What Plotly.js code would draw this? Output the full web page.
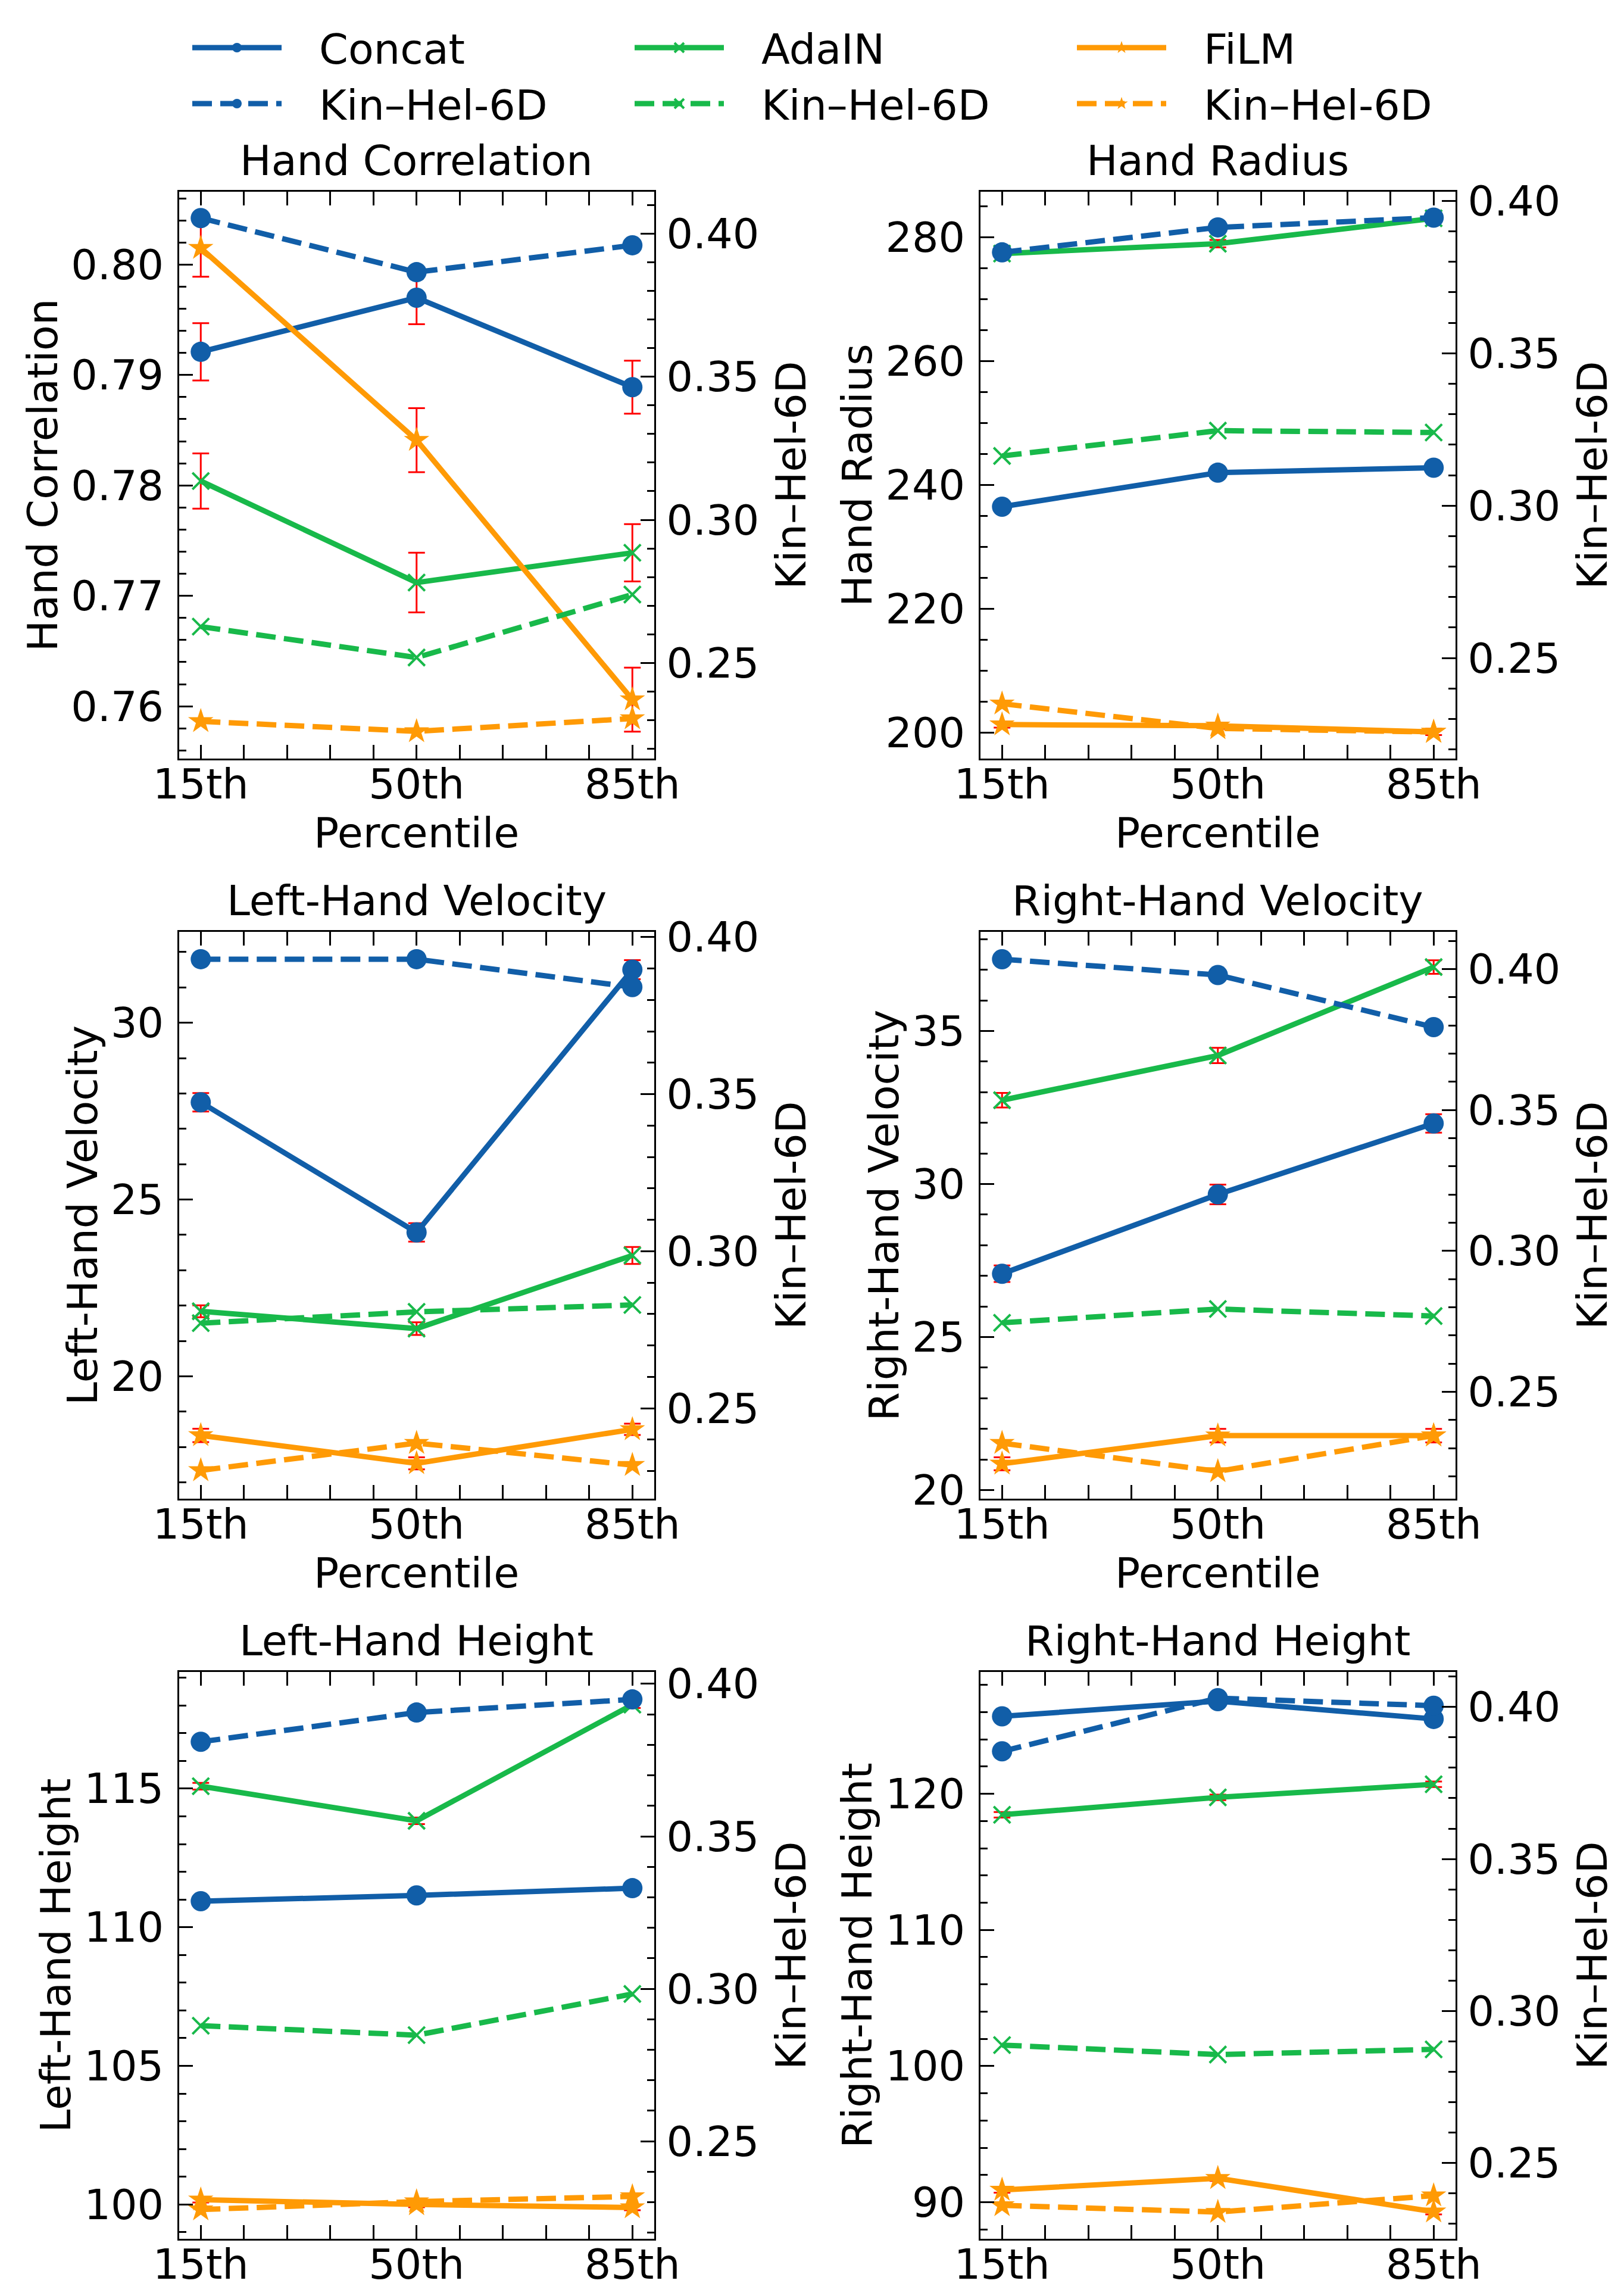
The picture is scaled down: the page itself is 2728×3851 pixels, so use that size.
<!DOCTYPE html>
<html>
<head>
<meta charset="utf-8">
<script src="https://cdn.plot.ly/plotly-3.0.1.min.js"></script>
<style>html,body{margin:0;padding:0;background:#fff;}</style>
</head>
<body>
<div id="chart" style="width:2728px;height:3851px;"></div>
<script>
// ---------------- data ----------------
const categories = ['15th', '50th', '85th'];
const seriesNames = ['Concat', 'AdaIN', 'FiLM'];
const khName = 'Kin\u2013Hel-6D';
const panelTitles = ['Hand Correlation', 'Hand Radius', 'Left-Hand Velocity', 'Right-Hand Velocity', 'Left-Hand Height', 'Right-Hand Height'];

// Hand Correlation
const hc_concat = [0.7921, 0.7970, 0.7889];
const hc_concat_err = [0.0026, 0.0024, 0.0024];
const hc_adain = [0.7804, 0.7712, 0.7739];
const hc_adain_err = [0.0025, 0.0027, 0.0026];
const hc_film = [0.8015, 0.7841, 0.7606];
const hc_film_err = [0.0026, 0.0029, 0.0029];
const hc_kh_concat = [0.4054, 0.3865, 0.3959];
const hc_kh_adain = [0.2627, 0.2519, 0.2739];
const hc_kh_film = [0.2296, 0.2261, 0.2306];

// Hand Radius
const hr_concat = [236.5, 242.0, 242.8];
const hr_concat_err = [0.5, 0.5, 0.5];
const hr_adain = [277.4, 279.0, 283.1];
const hr_adain_err = [0.5, 0.6, 0.5];
const hr_film = [201.3, 201.1, 200.1];
const hr_film_err = [0.5, 0.5, 0.5];
const hr_kh_concat = [0.3831, 0.3913, 0.3945];
const hr_kh_adain = [0.3163, 0.3246, 0.3240];
const hr_kh_film = [0.2350, 0.2269, 0.2257];

// Left-Hand Velocity
const lv_concat = [27.75, 24.07, 31.50];
const lv_concat_err = [0.26, 0.26, 0.27];
const lv_adain = [21.84, 21.35, 23.42];
const lv_adain_err = [0.17, 0.18, 0.24];
const lv_film = [18.33, 17.54, 18.50];
const lv_film_err = [0.19, 0.17, 0.16];
const lv_kh_concat = [0.3930, 0.3930, 0.3841];
const lv_kh_adain = [0.2771, 0.2807, 0.2829];
const lv_kh_film = [0.2302, 0.2389, 0.2319];

// Right-Hand Velocity
const rv_concat = [27.07, 29.66, 31.98];
const rv_concat_err = [0.27, 0.32, 0.30];
const rv_adain = [32.74, 34.20, 37.09];
const rv_adain_err = [0.24, 0.25, 0.22];
const rv_film = [20.86, 21.78, 21.78];
const rv_film_err = [0.21, 0.22, 0.22];
const rv_kh_concat = [0.4035, 0.3979, 0.3794];
const rv_kh_adain = [0.2745, 0.2794, 0.2769];
const rv_kh_film = [0.2318, 0.2218, 0.2345];

// Left-Hand Height
const lh_concat = [110.94, 111.15, 111.41];
const lh_concat_err = [0.10, 0.10, 0.10];
const lh_adain = [115.09, 113.84, 118.03];
const lh_adain_err = [0.12, 0.12, 0.12];
const lh_film = [100.17, 100.00, 99.89];
const lh_film_err = [0.10, 0.10, 0.10];
const lh_kh_concat = [0.3810, 0.3906, 0.3949];
const lh_kh_adain = [0.2879, 0.2848, 0.2983];
const lh_kh_film = [0.2276, 0.2302, 0.2319];

// Right-Hand Height
const rh_concat = [125.69, 126.81, 125.50];
const rh_concat_err = [0.20, 0.20, 0.20];
const rh_adain = [118.46, 119.74, 120.70];
const rh_adain_err = [0.20, 0.20, 0.20];
const rh_film = [90.90, 91.76, 89.30];
const rh_film_err = [0.20, 0.20, 0.20];
const rh_kh_concat = [0.3854, 0.4029, 0.4004];
const rh_kh_adain = [0.2888, 0.2857, 0.2874];
const rh_kh_film = [0.2361, 0.2339, 0.2393];

// ---------------- styling ----------------
const FONT = 'DejaVu Sans';
const FS = 70;
const colors = ['#115ea8', '#18b94a', '#ff9a05'];
const symbols = ['circle', 'x-thin', 'star'];
const msizes = [34, 28, 32];
const LW = 9;
const W = 2728, H = 3851;
const TOP = 280;            // top margin (legend lives above the plot area)
const PH = H - TOP;         // plot-area height

const panels = [
  {main: [hc_concat, hc_adain, hc_film], err: [hc_concat_err, hc_adain_err, hc_film_err], kh: [hc_kh_concat, hc_kh_adain, hc_kh_film],
   yl: {range: [0.75526, 0.8066], dtick: 0.01, minor: 0.002, fmt: '.2f'}, yr: {range: [0.2166, 0.4146]}},
  {main: [hr_concat, hr_adain, hr_film], err: [hr_concat_err, hr_adain_err, hr_film_err], kh: [hr_kh_concat, hr_kh_adain, hr_kh_film],
   yl: {range: [195.8, 287.4], dtick: 20, minor: 5, fmt: 'd'}, yr: {range: [0.2170, 0.4030]}},
  {main: [lv_concat, lv_adain, lv_film], err: [lv_concat_err, lv_adain_err, lv_film_err], kh: [lv_kh_concat, lv_kh_adain, lv_kh_film],
   yl: {range: [16.54, 32.57], dtick: 5, minor: 1, fmt: 'd'}, yr: {range: [0.2212, 0.4017]}},
  {main: [rv_concat, rv_adain, rv_film], err: [rv_concat_err, rv_adain_err, rv_film_err], kh: [rv_kh_concat, rv_kh_adain, rv_kh_film],
   yl: {range: [19.72, 38.24], dtick: 5, minor: 1, fmt: 'd'}, yr: {range: [0.2121, 0.4132]}},
  {main: [lh_concat, lh_adain, lh_film], err: [lh_concat_err, lh_adain_err, lh_film_err], kh: [lh_kh_concat, lh_kh_adain, lh_kh_film],
   yl: {range: [98.76, 119.21], dtick: 5, minor: 1, fmt: 'd'}, yr: {range: [0.2180, 0.4039]}},
  {main: [rh_concat, rh_adain, rh_film], err: [rh_concat_err, rh_adain_err, rh_film_err], kh: [rh_kh_concat, rh_kh_adain, rh_kh_film],
   yl: {range: [87.31, 128.95], dtick: 10, minor: 2, fmt: 'd'}, yr: {range: [0.2251, 0.4115]}}
];

// pixel geometry of the panels
const colX = [[301, 1098.5], [1647, 2444.5]];
const rowY = [[322, 1274], [1565, 2517], [2808, 3760]];
const fy = (py) => (H - py) / PH;   // pixel row -> plot-area fraction

const xs = categories.map((c, i) => i);

const traces = [];
const layout = {
  width: W, height: H,
  margin: {l: 0, r: 0, t: TOP, b: 0},
  paper_bgcolor: '#fff', plot_bgcolor: 'rgba(0,0,0,0)',
  font: {family: FONT, size: FS, color: '#000'},
  showlegend: true,
  legend: {
    orientation: 'h', x: 318 / W, xanchor: 'left', y: fy(28), yanchor: 'top',
    entrywidth: 578, entrywidthmode: 'pixels', itemwidth: 150,
    font: {family: FONT, size: FS, color: '#000'},
    bgcolor: 'rgba(0,0,0,0)', borderwidth: 0, traceorder: 'normal'
  },
  annotations: []
};

function axCommon() {
  return {
    showline: true, linecolor: '#000', linewidth: 3,
    ticks: 'inside', ticklen: 23, tickwidth: 3, tickcolor: '#000',
    showgrid: false, zeroline: false, fixedrange: true,
    tickfont: {family: FONT, size: FS, color: '#000'}
  };
}

panels.forEach((p, k) => {
  const r = Math.floor(k / 2), c = k % 2;
  const xi = k + 1, yli = 2 * k + 1, yri = 2 * k + 2;
  const xid = 'x' + (xi === 1 ? '' : xi);
  const ylid = 'y' + (yli === 1 ? '' : yli);
  const yrid = 'y' + yri;
  const xdom = [colX[c][0] / W, colX[c][1] / W];
  const ydom = [fy(rowY[r][1]), fy(rowY[r][0])];

  const xa = Object.assign(axCommon(), {
    domain: xdom, anchor: ylid, range: [-0.1, 2.1],
    tickmode: 'array', tickvals: xs, ticktext: categories,
    mirror: 'allticks', ticklabelstandoff: -20,
    minor: {tickmode: 'linear', tick0: 0, dtick: 0.2, ticks: 'inside', ticklen: 12, tickwidth: 3, tickcolor: '#000'}
  });
  if (r < 2) xa.title = {text: 'Percentile', font: {family: FONT, size: FS, color: '#000'}, standoff: 8};
  layout['xaxis' + (xi === 1 ? '' : xi)] = xa;

  layout['yaxis' + (yli === 1 ? '' : yli)] = Object.assign(axCommon(), {
    domain: ydom, anchor: xid, range: p.yl.range,
    tickmode: 'linear', tick0: 0, dtick: p.yl.dtick, tickformat: p.yl.fmt,
    ticklabelstandoff: 9,
    minor: {tickmode: 'linear', tick0: 0, dtick: p.yl.minor, ticks: 'inside', ticklen: 12, tickwidth: 3, tickcolor: '#000'},
    title: {text: panelTitles[k], font: {family: FONT, size: FS, color: '#000'}, standoff: 0}
  });

  layout['yaxis' + yri] = Object.assign(axCommon(), {
    domain: ydom, anchor: xid, overlaying: ylid, side: 'right', range: p.yr.range,
    tickmode: 'linear', tick0: 0, dtick: 0.05, tickformat: '.2f',
    ticklabelstandoff: 4,
    minor: {tickmode: 'linear', tick0: 0, dtick: 0.01, ticks: 'inside', ticklen: 12, tickwidth: 3, tickcolor: '#000'},
    title: {text: khName, font: {family: FONT, size: FS, color: '#000'}, standoff: 30}
  });

  layout.annotations.push({
    text: panelTitles[k], xref: 'paper', yref: 'paper',
    x: (xdom[0] + xdom[1]) / 2, y: ydom[1], xanchor: 'center', yanchor: 'middle', yshift: 52,
    showarrow: false, font: {family: FONT, size: FS, color: '#000'}
  });

  // main series (left axis) with error bars
  p.main.forEach((vals, s) => {
    traces.push({
      type: 'scatter', mode: 'lines+markers', x: xs, y: vals, xaxis: xid, yaxis: ylid,
      name: '\u2002\u2004' + seriesNames[s], showlegend: k === 0,
      line: {color: colors[s], width: LW},
      marker: {symbol: symbols[s], size: msizes[s], color: colors[s], line: {color: colors[s], width: s === 1 ? 4 : 0}},
      error_y: {type: 'data', array: p.err[s], visible: true, color: '#ff0000', thickness: 3, width: 14}
    });
  });
  // Kin-Hel-6D series (right axis), dashed
  p.kh.forEach((vals, s) => {
    traces.push({
      type: 'scatter', mode: 'lines+markers', x: xs, y: vals, xaxis: xid, yaxis: yrid,
      name: '\u2002\u2004' + khName, showlegend: k === 0,
      line: {color: colors[s], width: LW, dash: '33px,14px'},
      marker: {symbol: symbols[s], size: msizes[s], color: colors[s], line: {color: colors[s], width: s === 1 ? 4 : 0}}
    });
  });
});

Plotly.newPlot('chart', traces, layout, {staticPlot: true, displayModeBar: false});
</script>
</body>
</html>
